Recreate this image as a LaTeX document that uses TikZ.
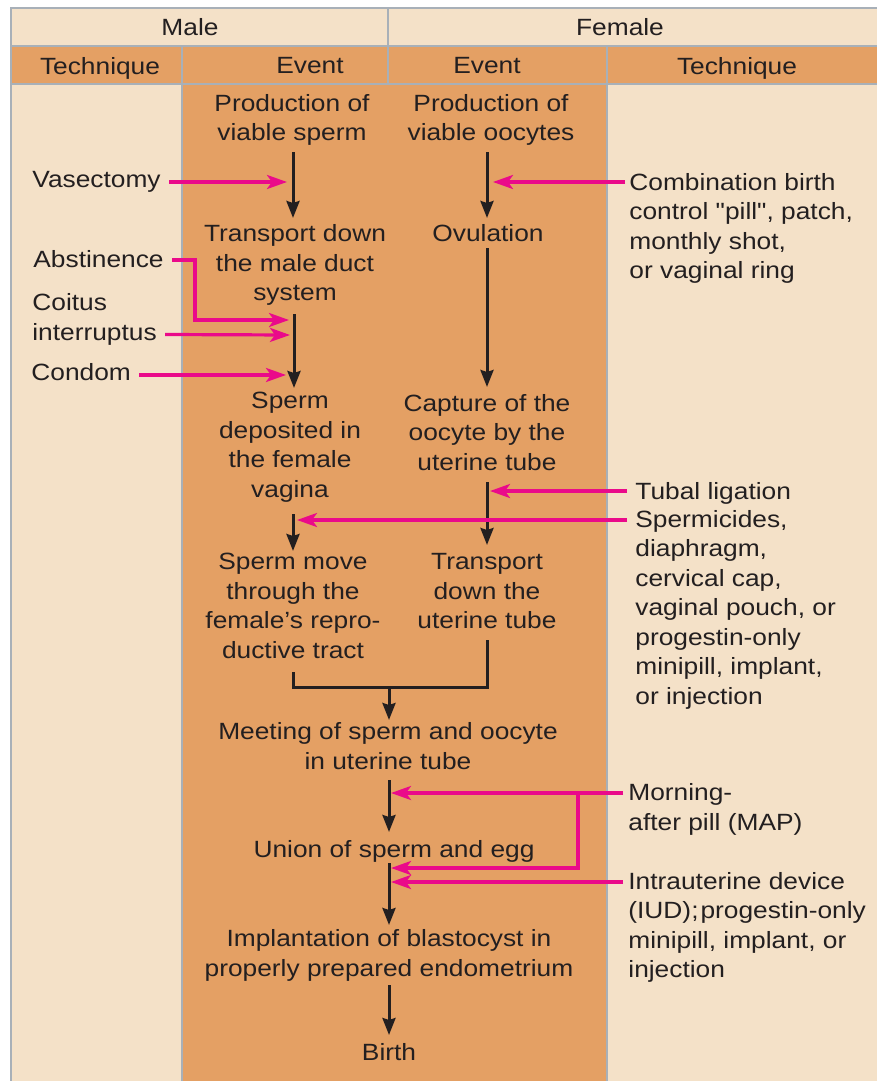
\documentclass[tikz,border=0pt]{standalone}
\usepackage{fontspec}
\setmainfont{Liberation Sans}[FakeStretch=1.12, Ligatures=TeXOff]
\usetikzlibrary{arrows.meta}
\definecolor{beige}{HTML}{F4E1C8}
\definecolor{orng}{HTML}{E4A064}
\definecolor{gridgray}{HTML}{A8B0B8}
\definecolor{techpink}{HTML}{EA0A8A}
\definecolor{ink}{HTML}{231F20}
\begin{document}
\begin{tikzpicture}[x=0.5pt,y=-0.5pt,
  txt/.style={inner sep=0pt, align=center, text=ink, font=\fontsize{11.75pt}{14.75pt}\selectfont},
  ltxt/.style={txt, align=left, anchor=west},
  blk/.style={draw=ink, line width=1.5pt, -{Stealth[length=8.5pt,width=6.5pt,inset=1pt]}},
  blkline/.style={draw=ink, line width=1.5pt},
  magarr/.style={draw=techpink, line width=1.6pt, -{Stealth[length=10pt,width=7pt,inset=2.5pt]}},
  gridline/.style={draw=gridgray, line width=1pt}]
\useasboundingbox (0,0) rectangle (877,1081);
\fill[white] (0,0) rectangle (877,1081);
\begin{scope}
\clip (0,0) rectangle (877,1081);
\fill[beige] (11,8) rectangle (890,1090);
\fill[orng] (11,46) rectangle (890,84);
\fill[orng] (182,84) rectangle (607,1090);
\draw[gridline] (11,1090) -- (11,8) -- (890,8);
\draw[gridline] (11,46) -- (890,46);
\draw[gridline] (11,84) -- (890,84);
\draw[gridline] (388,8) -- (388,84);
\draw[gridline] (182,46) -- (182,1090);
\draw[gridline] (607,46) -- (607,1090);
\end{scope}

% headers
\node[txt] (hm) at (190,27) {Male};
\node[txt] (hf) at (620,27) {Female};
\node[txt] (ht1) at (100,68) {Technique};
\node[txt] (he1) at (310,66) {Event};
\node[txt] (he2) at (487,66) {Event};
\node[txt] (ht2) at (737,68) {Technique};

% events
\node[txt] (ps) at (292,120) {Production of\\viable sperm};
\node[txt] (po) at (491,120) {Production of\\viable oocytes};
\node[txt] (tm) at (295,265) {Transport down\\the male duct\\system};
\node[txt] (ov) at (488,233) {Ovulation};
\node[txt] (sd) at (290,447) {Sperm\\deposited in\\the female\\vagina};
\node[txt] (co) at (487,432.5) {Capture of the\\oocyte by the\\uterine tube};
\node[txt] (sm) at (293,606) {Sperm move\\through the\\female’s repro-\\ductive tract};
\node[txt] (tu) at (487,591.5) {Transport\\down the\\uterine tube};
\node[txt] (me) at (388,746) {Meeting of sperm and oocyte\\in uterine tube};
\node[txt] (un) at (394,851) {Union of sperm and egg};
\node[txt] (im) at (389,955.5) {Implantation of blastocyst in\\properly prepared endometrium};
\node[txt] (bi) at (389,1052.5) {Birth};

% techniques
\node[ltxt] (vas) at (32,182) {Vasectomy};
\node[ltxt] (abs) at (33,259) {Abstinence};
\node[ltxt] (coit) at (32,319.5) {Coitus\\interruptus};
\node[ltxt] (cond) at (31,372) {Condom};
\node[ltxt] (comb) at (629,228.5) {Combination birth\\control "pill", patch,\\monthly shot,\\or vaginal ring};
\node[ltxt] (tub) at (635,493) {Tubal ligation};
\node[ltxt] (sper) at (635,609.5) {Spermicides,\\diaphragm,\\cervical cap,\\vaginal pouch, or\\progestin-only\\minipill, implant,\\or injection};
\node[ltxt] (map) at (628,809.5) {Morning-\\after pill (MAP)};
\node[ltxt] (iud) at (628,927.5) {Intrauterine device\\(IUD);\kern1pt progestin-only\\minipill, implant, or\\injection};

% coordinates on event flow lines
\coordinate (m1s) at (293,152);  \coordinate (m1e) at (293,218);
\coordinate (f1s) at (487,152);  \coordinate (f1e) at (487,218);
\coordinate (m2s) at (294,314);  \coordinate (m2e) at (294,388);
\coordinate (f2s) at (487,248);  \coordinate (f2e) at (487,387);
\coordinate (f3s) at (487,482);  \coordinate (f3e) at (487,545);
\coordinate (m3s) at (293,514);  \coordinate (m3e) at (293,551);
\coordinate (m4s) at (293,672);  \coordinate (f4s) at (487,640);
\coordinate (jn) at (389,687);   \coordinate (jne) at (389,720);
\coordinate (c1s) at (389,780);  \coordinate (c1e) at (389,832);
\coordinate (c2s) at (389,863);  \coordinate (c2e) at (389,925);
\coordinate (c3s) at (389,985);  \coordinate (c3e) at (389,1035);

% black flow arrows
\draw[blk] (m1s) -- (m1e);
\draw[blk] (f1s) -- (f1e);
\draw[blk] (m2s) -- (m2e);
\draw[blk] (f2s) -- (f2e);
\draw[blk] (f3s) -- (f3e);
\draw[blk] (m3s) -- (m3e);
\draw[blkline] (m4s) |- (jn) -| (f4s);
\draw[blk] (jn) -- (jne);
\draw[blk] (c1s) -- (c1e);
\draw[blk] (c2s) -- (c2e);
\draw[blk] (c3s) -- (c3e);

% magenta technique arrows
\coordinate (tvas) at (287,182);
\coordinate (tabs) at (289,320);
\coordinate (tcoit) at (290,335);
\coordinate (tcond) at (286,375);
\coordinate (tcomb) at (493,182);
\coordinate (ttub) at (490,491);
\coordinate (tsper) at (297,520);
\coordinate (tmap) at (391,793);
\coordinate (tmap2) at (391,868);
\coordinate (tiud) at (391,882);
\coordinate (bmap) at (578,793);

\draw[magarr] ([shift={(8,0)}]vas.east) -- (tvas);
\draw[magarr] ([shift={(8,1)}]abs.east) -| (195,320) -- (tabs);
\draw[magarr] ([shift={(8,15)}]coit.east) -- (tcoit);
\draw[magarr] ([shift={(8,3)}]cond.east) -- (tcond);
\draw[magarr] ([shift={(-4,0)}]comb.west |- tcomb) -- (tcomb);
\draw[magarr] ([shift={(-8,0)}]tub.west |- ttub) -- (ttub);
\draw[magarr] ([shift={(-8,0)}]sper.west |- tsper) -- (tsper);
\draw[magarr] ([shift={(-5,0)}]map.west |- tmap) -- (tmap);
\draw[magarr] (bmap) |- (tmap2);
\draw[magarr] ([shift={(-5,0)}]iud.west |- tiud) -- (tiud);
\end{tikzpicture}
\end{document}
